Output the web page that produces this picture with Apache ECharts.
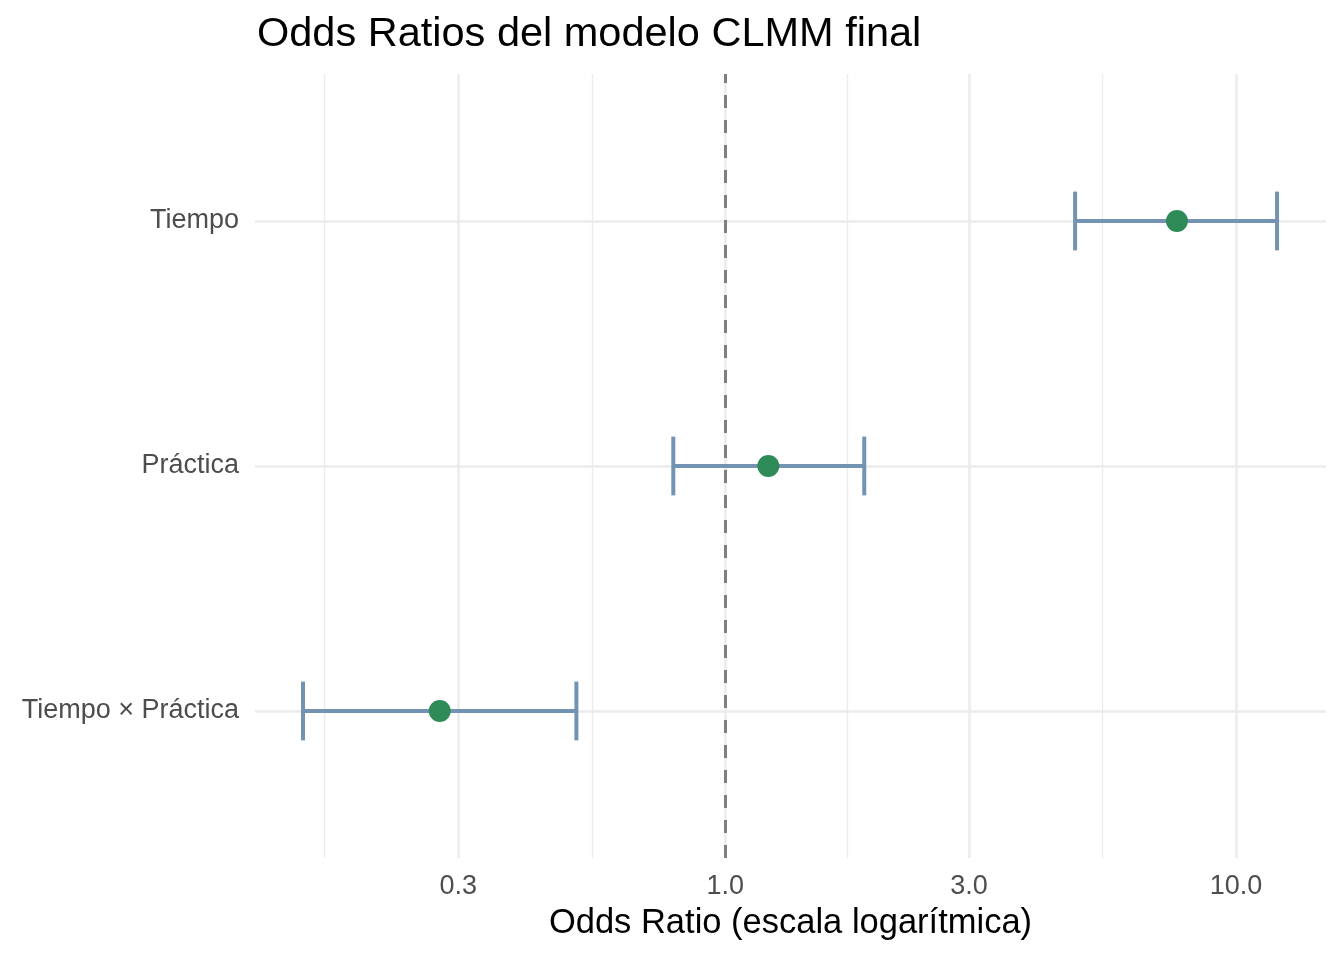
<!DOCTYPE html>
<html>
<head>
<meta charset="utf-8">
<script src="https://cdn.jsdelivr.net/npm/echarts@6/dist/echarts.min.js"></script>
<style>html,body{margin:0;padding:0;background:#fff}#c{width:1344px;height:960px}</style>
</head>
<body>
<div id="c"></div>
<script>
const terms = ['Tiempo × Práctica', 'Práctica', 'Tiempo'];
const oddsRatio = [0.276, 1.214, 7.66];
const ciLow = [0.149, 0.791, 4.84];
const ciHigh = [0.511, 1.871, 12.03];
const xTicks = [0.3, 1.0, 3.0, 10.0];
const xMinor = [0.1643, 0.5477, 1.732, 5.477];
const refValue = 1.0;

const FONT = '"Liberation Sans", Arial, sans-serif';
const yPos = terms.map((t, i) => i + 1);

const chart = echarts.init(document.getElementById('c'), null, {renderer: 'canvas'});
const xBase = {
  type: 'log', logBase: 10, min: 0.12, max: 15,
  axisLine: {show: false}
};
chart.setOption({
  animation: false,
  backgroundColor: '#ffffff',
  title: {
    text: 'Odds Ratios del modelo CLMM final',
    left: 252, top: 9,
    textStyle: {fontFamily: FONT, fontSize: 41.5, fontWeight: 'normal', color: '#000000'}
  },
  grid: {left: 255, right: 18, top: 74, bottom: 102, containLabel: false},
  xAxis: [
    Object.assign({}, xBase, {
      name: 'Odds Ratio (escala logarítmica)',
      nameLocation: 'middle', nameGap: 48,
      nameTextStyle: {fontFamily: FONT, fontSize: 34.5, color: '#000000'},
      axisTick: {show: false, customValues: xTicks},
      axisLabel: {customValues: xTicks, formatter: v => Number(v).toFixed(1),
        fontFamily: FONT, fontSize: 27, color: '#4D4D4D', margin: 15},
      splitLine: {show: true, lineStyle: {color: '#EBEBEB', width: 2.5}},
      z: 1
    }),
    Object.assign({}, xBase, {
      position: 'bottom',
      axisTick: {show: false, customValues: xMinor},
      axisLabel: {show: false, customValues: xMinor},
      splitLine: {show: true, lineStyle: {color: '#EBEBEB', width: 1.3}},
      z: 0
    })
  ],
  yAxis: {
    type: 'value', min: 0.4, max: 3.6,
    axisLine: {show: false},
    axisTick: {show: false, customValues: yPos},
    axisLabel: {customValues: yPos, formatter: v => terms[Math.round(v) - 1] || '',
      fontFamily: FONT, fontSize: 27, color: '#4D4D4D', margin: 16, padding: [4, 0, 0, 0]},
    splitLine: {show: true, lineStyle: {color: '#EBEBEB', width: 2.5}}
  },
  series: [
    {
      type: 'custom',
      xAxisIndex: 0,
      silent: true,
      data: yPos.map((y, i) => [y, ciLow[i], ciHigh[i]]),
      encode: {x: [1, 2], y: 0},
      renderItem: function (params, api) {
        const y = api.value(0);
        const a = api.coord([api.value(1), y]);
        const b = api.coord([api.value(2), y]);
        const h = api.size([0, 0.24])[1] / 2;
        const style = {stroke: '#7393B3', lineWidth: 4, fill: null};
        return {
          type: 'group',
          children: [
            {type: 'line', shape: {x1: a[0], y1: a[1], x2: b[0], y2: b[1]}, style: style},
            {type: 'line', shape: {x1: a[0], y1: a[1] - h, x2: a[0], y2: a[1] + h}, style: style},
            {type: 'line', shape: {x1: b[0], y1: b[1] - h, x2: b[0], y2: b[1] + h}, style: style}
          ]
        };
      },
      z: 3
    },
    {
      type: 'scatter',
      xAxisIndex: 0,
      symbol: 'circle', symbolSize: 22,
      itemStyle: {color: '#2E8B57', opacity: 1},
      data: yPos.map((y, i) => [oddsRatio[i], y]),
      markLine: {
        silent: true, symbol: 'none',
        label: {show: false},
        lineStyle: {color: '#7F7F7F', type: [13, 12], width: 3},
        data: [{xAxis: refValue}]
      },
      z: 4
    }
  ]
});
</script>
</body>
</html>
